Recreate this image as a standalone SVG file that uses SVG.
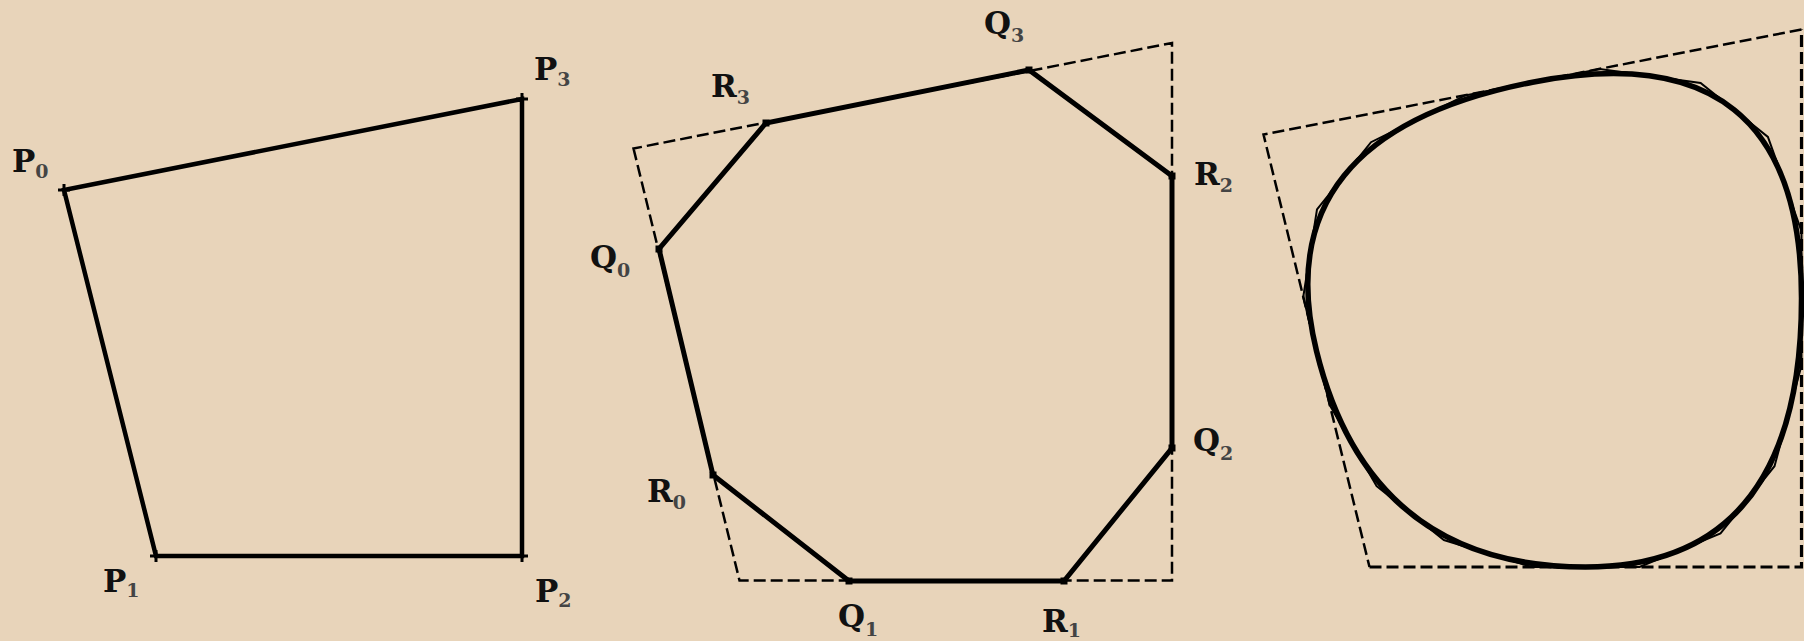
<svg xmlns="http://www.w3.org/2000/svg" width="1804" height="641" viewBox="0 0 1804 641">
<style>
.bg{fill:#E8D4BA}
.thick{fill:none;stroke:#000;stroke-width:4.5;stroke-linejoin:miter}
.oct{fill:none;stroke:#000;stroke-width:5}
.dash{fill:none;stroke:#000;stroke-width:2.5;stroke-dasharray:12 5}
.dash2{fill:none;stroke:#000;stroke-width:3.2;stroke-dasharray:12 5}
.thin{fill:none;stroke:#000;stroke-width:2}
.curve{fill:none;stroke:#000;stroke-width:5.5}
.tick{stroke:#000;stroke-width:3}
.lbl{font-family:"DejaVu Serif","Liberation Serif",serif;font-weight:bold;font-size:31px;fill:#111}
.sub{font-size:19px;fill:#444}
</style>
<defs>
<path id="plus" d="M-6 0H6M0 -6V6" class="tick"/>
<rect id="dot" x="-3.5" y="-3.5" width="7" height="7" fill="#000"/>
</defs>
<rect class="bg" x="0" y="0" width="1804" height="641"/>

<g id="left-quad">
<polygon class="thick" points="64,190 156,556 522,556 522,99"/>
<use href="#plus" x="64" y="190"/>
<use href="#plus" x="156" y="556"/>
<use href="#plus" x="522" y="556"/>
<use href="#plus" x="522" y="99"/>
</g>
<g id="label-P0"><text class="lbl" x="12" y="172">P<tspan class="sub" dy="6">0</tspan></text></g>
<g id="label-P1"><text class="lbl" x="103" y="592">P<tspan class="sub" dy="5">1</tspan></text></g>
<g id="label-P2"><text class="lbl" x="535" y="602">P<tspan class="sub" dy="5">2</tspan></text></g>
<g id="label-P3"><text class="lbl" x="534" y="80">P<tspan class="sub" dy="6">3</tspan></text></g>

<g id="middle">
<polygon class="dash" points="633.5,148.5 739.5,580.5 1172,580.5 1172,43"/>
<polygon class="oct" points="659,249 713,475 849,581 1064,581 1172,448 1172,176 1029,70 766,123"/>
<use href="#dot" x="659" y="249"/>
<use href="#dot" x="713" y="475"/>
<use href="#dot" x="849" y="581"/>
<use href="#dot" x="1064" y="581"/>
<use href="#dot" x="1172" y="448"/>
<use href="#dot" x="1172" y="176"/>
<use href="#dot" x="1029" y="70"/>
<use href="#dot" x="766" y="123"/>
</g>
<g id="label-Q3"><text class="lbl" x="984" y="34">Q<tspan class="sub" dy="8">3</tspan></text></g>
<g id="label-R3"><text class="lbl" x="711" y="97">R<tspan class="sub" dy="7">3</tspan></text></g>
<g id="label-Q0"><text class="lbl" x="590" y="268">Q<tspan class="sub" dy="9">0</tspan></text></g>
<g id="label-R0"><text class="lbl" x="647" y="502">R<tspan class="sub" dy="7">0</tspan></text></g>
<g id="label-Q1"><text class="lbl" x="838" y="627">Q<tspan class="sub" dy="9">1</tspan></text></g>
<g id="label-R1"><text class="lbl" x="1042" y="632">R<tspan class="sub" dy="5">1</tspan></text></g>
<g id="label-R2"><text class="lbl" x="1194" y="185">R<tspan class="sub" dy="7">2</tspan></text></g>
<g id="label-Q2"><text class="lbl" x="1193" y="451">Q<tspan class="sub" dy="9">2</tspan></text></g>

<g id="right">
<polyline class="dash" points="1801.5,29.5 1263.5,134.5 1369.5,567"/>
<polyline class="dash2" points="1369.5,567 1801.5,567 1801.5,29.5"/>
<polygon class="thin" points="1303.25,297 1329.75,405 1376.6,486 1443.9,540 1531.5,567 1639.5,567 1720.5,533.4 1774.5,466.2 1801.5,365.4 1801.5,231.1 1767.9,136.9 1700.6,82.9 1599.75,69.1 1465.25,95.4 1371,142.2 1317,209.4"/>
<polygon class="thin" points="1309.9,324 1323.1,378 1341.5,425.25 1364.9,465.75 1393.4,499.5 1427.1,526.5 1465.8,546.75 1509.6,560.25 1558.5,567 1612.5,567 1659.75,558.6 1700.25,541.8 1734,516.6 1761,483 1781.25,441 1794.75,390.6 1801.5,331.8 1801.5,264.7 1793.1,207.55 1776.3,160.45 1751.1,123.4 1717.4,96.4 1675.4,79.45 1624.96,72.55 1566.1,75.7 1498.9,88.85 1441.7,107.1 1394.6,130.5 1357.5,159 1330.5,192.6 1313.6,231.3 1306.6,275.1"/>
<path class="curve" d="M1316.5,351 Q1369.5,567 1585.5,567 Q1801.5,567 1801.5,298.25 Q1801.5,29.5 1532.5,82.25 Q1263.5,135 1316.5,351 Z"/>
</g>
</svg>
